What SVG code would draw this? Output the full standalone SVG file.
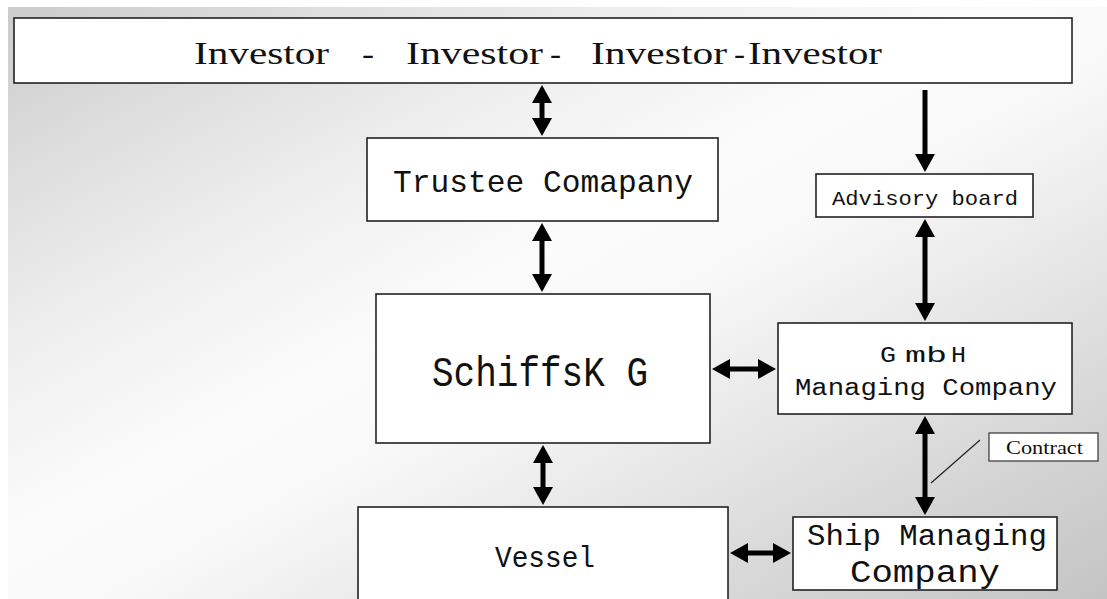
<svg xmlns="http://www.w3.org/2000/svg" width="1107" height="599" viewBox="0 0 1107 599">
  <defs>
    <linearGradient id="bg" x1="0" y1="0" x2="1" y2="1">
      <stop offset="0" stop-color="#cbcbcb"/>
      <stop offset="0.15" stop-color="#dedede"/>
      <stop offset="0.3" stop-color="#efefef"/>
      <stop offset="0.45" stop-color="#fbfbfb"/>
      <stop offset="0.55" stop-color="#f8f8f8"/>
      <stop offset="0.7" stop-color="#e6e6e6"/>
      <stop offset="0.85" stop-color="#d4d4d4"/>
      <stop offset="1" stop-color="#c4c4c4"/>
    </linearGradient>
    <marker id="ah" viewBox="0 -10 18 20" markerWidth="18" markerHeight="20" refX="1" refY="0" orient="auto-start-reverse" markerUnits="userSpaceOnUse">
      <path d="M0,-10 L18,0 L0,10 Z" fill="#000"/>
    </marker>
    <style>
      .box { fill: #ffffff; stroke: #222222; stroke-width: 1.6; }
      .mono { font-family: "Liberation Mono", "Courier New", monospace; fill: #111111; }
      .serif { font-family: "Liberation Serif", "Times New Roman", serif; fill: #111111; }
      .arrow { stroke: #000000; stroke-width: 5; fill: none; }
      .thin { stroke: #222222; stroke-width: 1.2; fill: none; }
    </style>
  </defs>

  <rect x="0" y="0" width="1107" height="599" fill="#ffffff"/>
  <rect x="8" y="7" width="1099" height="592" fill="url(#bg)"/>

  <g id="investors">
    <rect class="box" x="14" y="18" width="1058" height="65"/>
    <text class="serif" font-size="31" y="64">
      <tspan x="194" textLength="135" lengthAdjust="spacingAndGlyphs">Investor</tspan>
      <tspan x="362" textLength="12" lengthAdjust="spacingAndGlyphs">-</tspan>
      <tspan x="406" textLength="137" lengthAdjust="spacingAndGlyphs">Investor</tspan>
      <tspan x="550" textLength="11" lengthAdjust="spacingAndGlyphs">-</tspan>
      <tspan x="591" textLength="136" lengthAdjust="spacingAndGlyphs">Investor</tspan>
      <tspan x="734" textLength="11" lengthAdjust="spacingAndGlyphs">-</tspan>
      <tspan x="748" textLength="134" lengthAdjust="spacingAndGlyphs">Investor</tspan>
    </text>
  </g>

  <g id="trustee">
    <rect class="box" x="367" y="138" width="351" height="83"/>
    <text class="mono" font-size="32" x="393" y="192" textLength="300" lengthAdjust="spacingAndGlyphs">Trustee Comapany</text>
  </g>

  <g id="advisory">
    <rect class="box" x="816" y="174" width="217" height="43"/>
    <text class="mono" font-size="21" x="832" y="205" textLength="186" lengthAdjust="spacingAndGlyphs">Advisory board</text>
  </g>

  <g id="schiffskg">
    <rect class="box" x="376" y="294" width="334" height="149"/>
    <text class="mono" font-size="43" x="432" y="386" textLength="216" lengthAdjust="spacingAndGlyphs">SchiffsK G</text>
  </g>

  <g id="gmbh">
    <rect class="box" x="778" y="323" width="294" height="91"/>
    <text class="mono" font-size="22" y="362"><tspan x="880" textLength="16" lengthAdjust="spacingAndGlyphs">G</tspan><tspan x="905" textLength="42" lengthAdjust="spacingAndGlyphs">mb</tspan><tspan x="951" textLength="15" lengthAdjust="spacingAndGlyphs">H</tspan></text>
    <text class="mono" font-size="23" x="795" y="395" textLength="262" lengthAdjust="spacingAndGlyphs">Managing Company</text>
  </g>

  <g id="contract">
    <rect x="989" y="433" width="109" height="28" fill="#ffffff" stroke="#333333" stroke-width="1.2"/>
    <text class="serif" font-size="18" x="1006" y="454" textLength="77" lengthAdjust="spacingAndGlyphs">Contract</text>
  </g>

  <g id="shipmanaging">
    <rect class="box" x="793" y="517" width="264" height="73"/>
    <text class="mono" font-size="30" x="807" y="545" textLength="240" lengthAdjust="spacingAndGlyphs">Ship Managing</text>
    <text class="mono" font-size="31" x="850" y="582" textLength="150" lengthAdjust="spacingAndGlyphs">Company</text>
  </g>

  <g id="vessel">
    <rect class="box" x="358" y="507" width="370" height="100"/>
    <text class="mono" font-size="30" x="495" y="567" textLength="100" lengthAdjust="spacingAndGlyphs">Vessel</text>
  </g>

  <g id="connectors">
    <line class="arrow" x1="542" y1="102" x2="542" y2="119" marker-start="url(#ah)" marker-end="url(#ah)"/>
    <line class="arrow" x1="542" y1="240" x2="542" y2="275" marker-start="url(#ah)" marker-end="url(#ah)"/>
    <line class="arrow" x1="543" y1="462" x2="543" y2="488" marker-start="url(#ah)" marker-end="url(#ah)"/>
    <line class="arrow" x1="729" y1="369" x2="759" y2="369" marker-start="url(#ah)" marker-end="url(#ah)"/>
    <line class="arrow" x1="925" y1="90" x2="925" y2="155" marker-end="url(#ah)"/>
    <line class="arrow" x1="925" y1="236" x2="925" y2="304" marker-start="url(#ah)" marker-end="url(#ah)"/>
    <line class="arrow" x1="925" y1="433" x2="925" y2="498" marker-start="url(#ah)" marker-end="url(#ah)"/>
    <line class="arrow" x1="747" y1="553" x2="774" y2="553" marker-start="url(#ah)" marker-end="url(#ah)"/>
    <line class="thin" x1="931" y1="483" x2="980" y2="440"/>
  </g>
</svg>
